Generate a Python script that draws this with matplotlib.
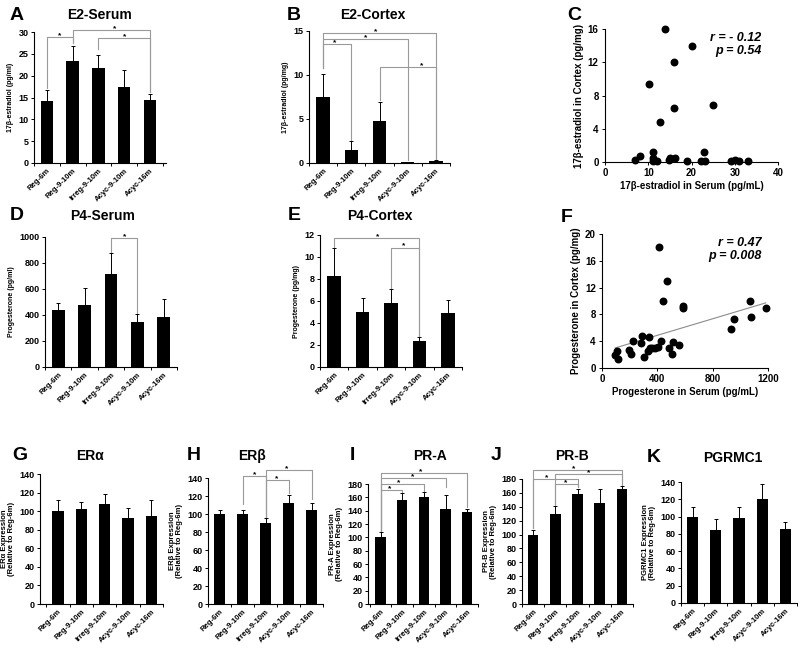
import numpy as np
import matplotlib.pyplot as plt

plt.rcParams['font.family'] = ['Liberation Sans', 'DejaVu Sans']
plt.rcParams['font.weight'] = 'bold'
plt.rcParams['axes.labelweight'] = 'bold'
plt.rcParams['axes.linewidth'] = 0.8

W, H = 800, 648

groups = ['Reg-6m', 'Reg-9-10m', 'Irreg-9-10m', 'Acyc-9-10m', 'Acyc-16m']

# hormone levels (mean, upper error)
e2_serum = [14.3, 23.3, 21.8, 17.5, 14.5]
e2_serum_err = [2.4, 3.4, 3.0, 3.8, 1.3]
e2_cortex = [7.5, 1.5, 4.8, 0.1, 0.2]
e2_cortex_err = [2.6, 1.0, 2.1, 0.05, 0.1]
p4_serum = [440, 480, 715, 345, 385]
p4_serum_err = [50, 125, 160, 65, 135]
p4_cortex = [8.3, 5.0, 5.8, 2.35, 4.95]
p4_cortex_err = [2.5, 1.25, 1.3, 0.4, 1.15]

# receptor expression, relative to Reg-6m
era = [100, 102, 108, 93, 94.5]
era_err = [12, 8, 11, 10, 17]
erb = [100, 99.5, 90.5, 112, 105]
erb_err = [5, 4.5, 5, 9, 7]
pra = [100, 156, 160, 142, 138.5]
pra_err = [8, 10, 8, 21, 4.5]
prb = [100, 130, 159, 145, 165]
prb_err = [7, 11, 7, 21, 5]
pgrmc1 = [100, 85, 98, 120, 86]
pgrmc1_err = [11, 12, 13, 18, 8]

# C: serum vs cortex estradiol
c_serum = [7, 8, 10.1, 11, 11, 11.2, 12, 12.8, 14.8, 15, 13.8, 16.2, 15.9, 15.9,
           19, 20, 22.2, 22.9, 23.1, 25, 29.1, 30, 31, 33.1]
c_cortex = [0.2, 0.7, 9.4, 1.2, 0.5, 0.1, 0.1, 4.8, 0.3, 0.5, 16.0, 0.5, 12.0, 6.5,
            0.15, 14.0, 0.1, 1.2, 0.1, 6.8, 0.1, 0.25, 0.1, 0.1]

# F: serum vs cortex progesterone
f_serum = [95, 110, 118, 192, 209, 221, 281, 288, 300, 336, 343, 350, 365, 386, 408,
           430, 413, 444, 470, 485, 504, 516, 554, 586, 586, 929, 953, 1073, 1080, 1183]
f_cortex = [2.0, 2.6, 1.4, 2.75, 2.15, 4.1, 3.8, 4.8, 1.7, 2.5, 4.65, 3.0, 3.05, 3.0, 3.1,
            4.1, 18.0, 9.95, 13.0, 2.95, 2.15, 3.9, 3.5, 9.25, 8.9, 5.8, 7.3, 10.0, 7.65, 8.9]

# significance brackets: (i, j, top, low_i, low_j, star_x)
brk_a = [(0, 1, 28.8, 17.2, 27.4, 0.5), (1, 4, 30.4, 27.4, 16.2, 2.64), (2, 4, 28.6, 26.0, 16.2, 3.0)]
brk_b = [(0, 4, 14.8, 10.8, 0.4, 1.86), (0, 3, 14.1, 10.8, 0.3, 1.5),
         (0, 1, 13.5, 10.8, 2.6, 0.4), (2, 4, 10.9, 7.2, 0.4, 3.5)]
brk_d = [(2, 3, 990, 885, 415, 2.5)]
brk_e = [(0, 3, 11.7, 10.9, 2.8, 1.54), (2, 3, 10.85, 7.2, 2.8, 2.45)]
brk_h = [(1, 2, 141.8, 111.6, 95, 1.53), (2, 4, 148.5, 95, 117, 2.93), (2, 3, 138, 95, 123, 2.47)]
brk_i = [(0, 1, 171.5, 110, 168, 0.4), (0, 2, 180.5, 110, 170, 0.85),
         (0, 3, 189, 110, 176, 1.5), (0, 4, 196.6, 110, 145, 1.87)]
brk_j = [(0, 4, 192.5, 109, 172, 1.84), (1, 4, 187.2, 143, 172, 2.5),
         (0, 2, 180, 109, 168, 0.63), (1, 2, 172.8, 143, 168, 1.47)]

fig = plt.figure(figsize=(W / 100, H / 100), dpi=100)


def px_axes(x0, x1, ytop, ybot):
    return fig.add_axes([x0 / W, 1 - ybot / H, (x1 - x0) / W, (ybot - ytop) / H])


def bar_panel(box, xlim, vals, errs, ymax, ystep, ylabel, ylsize=5):
    ax = px_axes(*box)
    x = np.arange(len(groups))
    ax.bar(x, vals, width=0.48, color='black', zorder=2)
    ax.errorbar(x, vals, yerr=[np.zeros(len(errs)), errs], fmt='none', ecolor='black',
                elinewidth=0.7, capsize=1.3, capthick=0.7, zorder=2)
    ax.set_xlim(*xlim)
    ax.set_ylim(0, ymax)
    ax.set_yticks(np.arange(0, ymax + ystep / 2, ystep))
    ax.set_xticks(x)
    ax.set_xticklabels(groups, rotation=45, ha='right', va='top', rotation_mode='anchor', fontsize=5.6)
    ax.set_xticks(np.arange(-0.5, 5, 1), minor=True)
    ax.tick_params(axis='x', which='major', length=0, pad=3)
    ax.tick_params(axis='x', which='minor', length=2.5, width=0.7, direction='out')
    ax.tick_params(axis='y', length=2.5, width=0.7, labelsize=6.5, pad=1.5)
    for s in ['top', 'right']:
        ax.spines[s].set_visible(False)
    ax.set_ylabel(ylabel, fontsize=ylsize, labelpad=3, linespacing=1.0)
    return ax


def brackets(ax, items):
    for i, j, top, lo_i, lo_j, sx in items:
        ax.plot([i, i, j, j], [lo_i, top, top, lo_j], color='#9a9a9a', lw=0.8,
                clip_on=False, zorder=1)
        ax.annotate('*', (sx, top), xytext=(0, -1.5), textcoords='offset points',
                    ha='center', va='bottom', fontsize=6, annotation_clip=False)


def scatter_panel(box, xs, ys, xmax, xstep, ymax, ystep, xlabel, ylabel, r_txt, p_txt, txt_xy):
    ax = px_axes(*box)
    ax.scatter(xs, ys, s=22, color='black', zorder=3, clip_on=False)
    ax.set_xlim(0, xmax)
    ax.set_ylim(0, ymax)
    ax.set_xticks(np.arange(0, xmax + 1, xstep))
    ax.set_yticks(np.arange(0, ymax + 0.1, ystep))
    ax.tick_params(length=2.5, width=0.7, labelsize=7, pad=2)
    for s in ['top', 'right']:
        ax.spines[s].set_visible(False)
    ax.set_xlabel(xlabel, fontsize=7, labelpad=2)
    ax.set_ylabel(ylabel, fontsize=7, labelpad=3)
    ax.text(txt_xy[0], txt_xy[1], r_txt + '\n' + p_txt, ha='right', va='top',
            fontsize=9, style='italic', fontweight='bold', linespacing=1.1)
    return ax


def label(x, y, letter, title, tx):
    fig.text(x / W, 1 - y / H, letter, fontsize=14, fontweight='bold', va='center')
    fig.text(tx / W, 1 - y / H, title, fontsize=10, fontweight='bold', ha='center', va='center')


# row 1
ax_a = bar_panel((34, 166, 32, 163), (-0.5, 4.62), e2_serum, e2_serum_err, 30, 5, '17β-estradiol (pg/ml)')
brackets(ax_a, brk_a)
ax_b = bar_panel((309, 450, 31, 163), (-0.46, 4.5), e2_cortex, e2_cortex_err, 15, 5, '17β-estradiol (pg/mg)')
brackets(ax_b, brk_b)
ax_c = scatter_panel((605, 778, 29, 162), c_serum, c_cortex, 40, 10, 16, 4,
                     '17β-estradiol in Serum (pg/mL)', '17β-estradiol in Cortex (pg/mg)',
                     'r = - 0.12', 'p = 0.54', (36.2, 15.6))
label(10, 15, 'A', 'E2-Serum', 99)
label(287, 15, 'B', 'E2-Cortex', 373)
label(567, 15, 'C', '', 0)

# row 2
ax_d = bar_panel((45, 177, 237, 367), (-0.5, 4.5), p4_serum, p4_serum_err, 1000, 200, 'Progesterone (pg/ml)')
brackets(ax_d, brk_d)
ax_e = bar_panel((320, 462, 235, 367), (-0.5, 4.5), p4_cortex, p4_cortex_err, 12, 2, 'Progesterone (pg/mg)')
brackets(ax_e, brk_e)
ax_f = scatter_panel((602, 768, 234, 368), f_serum, f_cortex, 1200, 400, 20, 4,
                     'Progesterone in Serum (pg/mL)', 'Progesterone in Cortex (pg/mg)',
                     'r = 0.47', 'p = 0.008', (1152, 19.5))
coef = np.polyfit(f_serum, f_cortex, 1)
fx = np.array([min(f_serum), max(f_serum)])
ax_f.plot(fx, np.polyval(coef, fx), color='#8c8c8c', lw=0.8, zorder=2)
label(10, 216, 'D', 'P4-Serum', 103)
label(288, 216, 'E', 'P4-Cortex', 380)
label(561, 217, 'F', '', 0)

# row 3
ax_g = bar_panel((40, 163, 474, 604), (-0.77, 4.47), era, era_err, 140, 20,
                 'ERα Expression\n(Relative to Reg-6m)', 5.5)
ax_h = bar_panel((208, 323, 478, 604), (-0.45, 4.3), erb, erb_err, 140, 20,
                 'ERβ Expression\n(Relative to Reg-6m)', 5.5)
brackets(ax_h, brk_h)
ax_i = bar_panel((368, 478, 484, 604), (-0.58, 4.36), pra, pra_err, 180, 20,
                 'PR-A Expression\n(Relative to Reg-6m)', 5.5)
brackets(ax_i, brk_i)
ax_j = bar_panel((522, 633, 479, 604), (-0.3, 4.38), prb, prb_err, 180, 20,
                 'PR-B Expression\n(Relative to Reg-6m)', 5.5)
brackets(ax_j, brk_j)
ax_k = bar_panel((681, 797, 482, 603), (-0.42, 4.42), pgrmc1, pgrmc1_err, 140, 20,
                 'PGRMC1 Expression\n(Relative to Reg-6m)', 5.5)
label(12, 456, 'G', 'ERα', 90)
label(187, 456, 'H', 'ERβ', 252)
label(350, 456, 'I', 'PR-A', 430)
label(491, 456, 'J', 'PR-B', 572)
label(647, 458, 'K', 'PGRMC1', 733)

fig.savefig('out.png', dpi=100)
